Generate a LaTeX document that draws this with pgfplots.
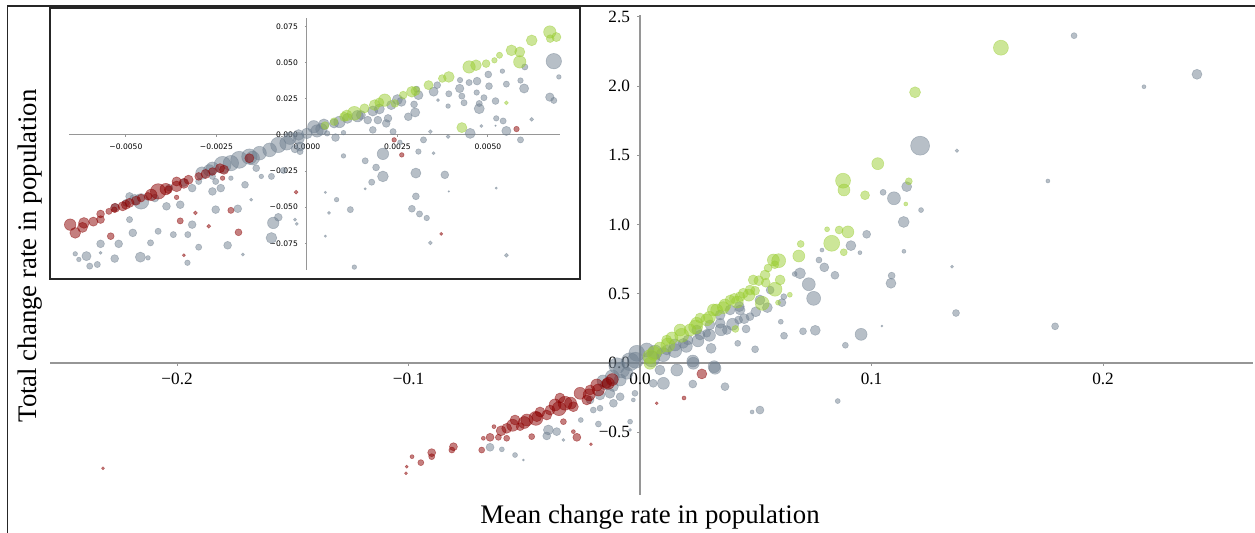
\documentclass[border=0pt]{standalone}
\usepackage{fontspec}
\setmainfont{Liberation Serif}
\newfontfamily\dejavu{DejaVu Sans}
\usepackage{pgfplots}
\pgfplotsset{compat=1.18}

\definecolor{grn}{RGB}{154,205,50}
\definecolor{gry}{RGB}{112,128,144}
\definecolor{drd}{RGB}{139,0,0}
\definecolor{axc}{RGB}{150,150,150}

\pgfplotsset{
  bub/.style 2 args={only marks, scatter, mark=*, line width=0.3pt,
    scatter/use mapped color={draw=#1, fill=#1, fill opacity=0.5, draw opacity=0.45},
    visualization depends on={#2*\thisrow{s} \as \msz},
    scatter/@pre marker code/.append style={/tikz/mark size=\msz}},
  midax/.style={axis lines=middle, scale only axis, scaled ticks=false,
    axis line style={-, draw=axc, line width=0.7pt},
    tick style={draw=axc, line width=0.5pt}, tick align=outside, major tick length=1.5pt,
    hide obscured x ticks=false, hide obscured y ticks=false},
}

\begin{document}
\begin{tikzpicture}
\useasboundingbox (0,0) rectangle (627.5pt,266.5pt);

% main chart
\begin{axis}[midax, at={(25pt,19pt)}, anchor=south west,
  width=601.5pt, height=240pt,
  xmin=-0.2549, xmax=0.2648, ymin=-0.9538, ymax=2.5145,
  xtick={-0.2,-0.1,0,0.1,0.2}, xticklabels={−0.2,−0.1,0.0,0.1,0.2},
  ytick={-0.5,0,0.5,1,1.5,2,2.5}, yticklabels={−0.5,0.0,0.5,1.0,1.5,2.0,2.5},
  tick label style={font=\fontsize{8.6}{10}\selectfont}]

\addplot[bub={gry}{1}] table[row sep=\\]{
x y s\\
0.1875 2.365 1.5\\
0.2406 2.086 2.5\\
0.2177 1.996 1\\
0.1210 1.570 4.75\\
0.1369 1.534 0.9\\
0.1762 1.315 1\\
0.1152 1.274 2.5\\
0.1050 1.233 1.5\\
0.1097 1.190 3.25\\
0.1214 1.105 1.25\\
0.1139 1.019 2.75\\
0.0979 0.930 2\\
0.0911 0.848 2.5\\
0.0950 0.797 1\\
0.1140 0.807 1\\
0.0786 0.816 1\\
0.0773 0.744 1.5\\
0.0796 0.691 2.25\\
0.0842 0.634 2\\
0.1087 0.631 1.75\\
0.1084 0.576 2.5\\
0.1348 0.696 0.75\\
0.0691 0.648 2.75\\
0.0668 0.643 1.25\\
0.0729 0.569 3.25\\
0.0750 0.467 3.5\\
0.0621 0.479 1.5\\
0.0613 0.436 2\\
0.0608 0.298 1.25\\
0.0622 0.197 1.75\\
0.0704 0.229 1.75\\
0.0757 0.236 2.5\\
0.0955 0.207 3\\
0.0887 0.128 1.5\\
0.1045 0.267 0.5\\
0.1365 0.361 1.75\\
0.1793 0.265 1.75\\
0.0422 0.142 1.5\\
0.0497 0.099 1.75\\
0.0458 0.246 2\\
0.0426 0.311 2\\
0.0307 0.106 2.5\\
0.0320 -0.027 3\\
0.0228 0.014 3\\
0.0429 0.407 2.5\\
0.0346 0.287 2.5\\
0.0375 0.238 2.25\\
-0.0014 0.070 4\\
-0.0043 0.009 4.5\\
0.0029 0.094 3.5\\
0.0101 -0.147 3\\
0.0086 -0.051 2.5\\
0.0230 -0.002 3\\
0.0159 -0.051 3\\
0.0324 -0.038 3\\
0.0367 -0.171 2\\
0.0228 -0.152 2\\
0.0245 0.238 2.5\\
0.0288 0.215 2\\
0.0187 0.142 2.5\\
0.0115 0.094 2.5\\
0.0432 0.383 2.5\\
0.0475 0.335 2\\
0.0518 -0.340 2\\
0.0484 -0.354 1\\
0.0854 -0.275 1.25\\
0.0057 -0.147 2\\
0.0259 0.202 2.5\\
0.0302 0.275 2.5\\
0.0346 0.347 2.5\\
0.0389 0.383 2.5\\
0.0518 0.455 2.5\\
0.0562 0.527 2\\
0.0151 0.130 3\\
0.0065 0.079 3.5\\
0.0207 0.166 2.5\\
0.0050 0.030 4\\
-0.0020 0.020 4\\
0.0100 0.060 3.5\\
0.0150 0.090 3.5\\
0.0200 0.120 3\\
0.0250 0.160 3\\
0.0300 0.200 3\\
0.0350 0.240 3\\
0.0400 0.280 3\\
0.0450 0.320 2.5\\
0.0500 0.370 2.5\\
0.0550 0.400 2.5\\
-0.0080 -0.050 4\\
-0.0120 -0.100 3.5\\
-0.0160 -0.130 3\\
-0.0100 -0.020 4\\
-0.0648 -0.609 2\\
-0.0597 -0.624 1.25\\
-0.0540 -0.665 1.25\\
-0.0504 -0.701 0.5\\
-0.0396 -0.484 2.5\\
-0.0360 -0.496 2\\
-0.0403 -0.527 2\\
-0.0331 -0.556 0.75\\
-0.0180 -0.441 1.5\\
-0.0256 -0.412 1.25\\
-0.0202 -0.340 1.5\\
-0.0173 -0.327 1.5\\
-0.0115 -0.291 2\\
-0.0086 -0.244 2\\
-0.0043 -0.424 1.25\\
-0.0043 -0.484 0.75\\
-0.0029 -0.267 1\\
-0.0022 -0.219 1.5\\
-0.0115 -0.171 2.5\\
-0.0086 -0.123 3\\
-0.0057 -0.074 3\\
-0.0130 -0.219 2.5\\
-0.0173 -0.231 2.5\\
-0.0216 -0.267 2\\
-0.0151 -0.159 2.5\\
};

\addplot[bub={grn}{1}] table[row sep=\\]{
x y s\\
0.1559 2.278 3.75\\
0.1188 1.956 2.75\\
0.1027 1.440 3\\
0.0877 1.317 3.75\\
0.0881 1.250 3\\
0.0972 1.212 2.25\\
0.1161 1.313 1.75\\
0.1148 1.149 1\\
0.0828 0.865 4\\
0.0898 0.947 3\\
0.0860 0.961 2\\
0.0808 0.966 1.25\\
0.0880 0.800 1.75\\
0.0694 0.860 1.75\\
0.0686 0.773 3\\
0.0599 0.739 3.5\\
0.0582 0.710 2\\
0.0605 0.600 2.5\\
0.0583 0.533 3.5\\
0.0513 0.595 2.5\\
0.0543 0.580 2.25\\
0.0497 0.522 2.25\\
0.0528 0.431 3.5\\
0.0647 0.493 1.25\\
0.0596 0.436 1.25\\
0.0446 0.504 2.5\\
0.0407 0.467 2.5\\
0.0412 0.246 1.75\\
0.0331 0.383 3\\
0.0288 0.311 3\\
0.0317 0.383 3\\
0.0432 0.479 2.5\\
0.0489 0.600 2.5\\
0.0576 0.744 3\\
0.0245 0.287 3\\
0.0173 0.238 3\\
0.0115 0.166 2.5\\
0.0043 0.046 3.5\\
0.0043 -0.002 3\\
0.0216 0.238 3\\
0.0259 0.325 2.5\\
0.0367 0.419 3\\
0.0389 0.455 2.5\\
0.0086 0.108 3\\
0.0138 0.181 3\\
0.0475 0.527 2.5\\
0.0540 0.636 2.5\\
0.0553 0.686 2\\
0.0060 0.070 3.5\\
0.0120 0.130 3.5\\
0.0180 0.200 3.5\\
0.0240 0.260 3.5\\
0.0300 0.330 3\\
0.0360 0.400 3\\
0.0420 0.440 3\\
0.0470 0.490 3\\
};

\addplot[bub={drd}{1}] table[row sep=\\]{
x y s\\
-0.0180 -0.195 3\\
-0.0259 -0.219 3\\
-0.0324 -0.291 3.5\\
-0.0389 -0.340 2.5\\
-0.0489 -0.412 3\\
-0.0446 -0.388 2.5\\
-0.0576 -0.472 2.5\\
-0.0144 -0.147 2.5\\
-0.0230 -0.267 2.5\\
-0.0288 -0.316 2.5\\
-0.0403 -0.376 2.5\\
-0.0518 -0.460 2\\
-0.0331 -0.424 1.5\\
-0.0468 -0.532 1.5\\
-0.0576 -0.544 1.5\\
-0.0648 -0.537 2\\
-0.0677 -0.544 1\\
-0.0612 -0.537 1.5\\
-0.0684 -0.629 1.5\\
-0.0806 -0.605 2\\
-0.0813 -0.629 1.5\\
-0.0900 -0.648 2\\
-0.0900 -0.677 1.5\\
-0.0947 -0.720 1.5\\
-0.0985 -0.677 1\\
-0.1008 -0.749 0.75\\
-0.1011 -0.797 0.75\\
-0.0273 -0.537 2\\
-0.0288 -0.496 1\\
-0.0212 -0.587 0.75\\
-0.2320 -0.761 0.75\\
-0.0631 -0.460 1\\
0.0267 -0.079 2.5\\
0.0190 -0.253 1\\
0.0072 -0.291 0.75\\
-0.0346 -0.253 2.5\\
-0.0367 -0.303 3\\
-0.0432 -0.354 2.5\\
-0.0540 -0.412 2.5\\
-0.0216 -0.195 2.5\\
-0.0187 -0.159 3\\
-0.0137 -0.147 3\\
-0.0500 -0.430 3\\
-0.0450 -0.400 3.5\\
-0.0350 -0.330 3.5\\
-0.0300 -0.290 3\\
-0.0220 -0.230 3\\
-0.0120 -0.120 3\\
-0.0600 -0.490 2.5\\
-0.0550 -0.450 3\\
};
\end{axis}

% frame lines
\draw[line width=0.7pt, black!85] (3.75pt,0pt) -- (3.75pt,263.5pt) -- (627.5pt,263.5pt);

% axis titles
\node[font=\fontsize{13.4}{15}\selectfont, anchor=base] at (325pt,4.5pt) {Mean change rate in population};
\node[font=\fontsize{13.4}{15}\selectfont, rotate=90] at (15pt,138.5pt) {Total change rate in population};

% inset
\fill[white] (25pt,127pt) rectangle (290pt,262.5pt);
\draw[line width=0.6pt, black!85] (25pt,127pt) rectangle (290pt,262.5pt);

\begin{axis}[midax, at={(34.65pt,131.5pt)}, anchor=south west,
  width=245.25pt, height=125.85pt,
  axis line style={-, draw=axc, line width=0.5pt}, major tick length=1pt,
  xmin=-0.006564, xmax=0.006986, ymin=-0.0935, ymax=0.0808,
  xtick={-0.005,-0.0025,0,0.0025,0.005},
  xticklabels={−0.0050,−0.0025,0.0000,0.0025,0.0050},
  ytick={-0.075,-0.05,-0.025,0,0.025,0.05,0.075},
  yticklabels={−0.075,−0.050,−0.025,0.000,0.025,0.050,0.075},
  tick label style={font=\dejavu\fontsize{3.8}{4.5}\selectfont}]

\addplot[bub={gry}{1.15}] table[row sep=\\]{
x y s\\
0.00682 0.0511 3.36\\
0.00696 0.0402 1.0\\
0.00671 0.0262 1.85\\
0.00682 0.0239 1.35\\
0.00602 0.0471 1.35\\
0.00590 0.0377 1.2\\
0.00600 0.0322 2.0\\
0.00551 0.0352 1.35\\
0.00540 0.0442 1.0\\
0.00501 0.0419 1.5\\
0.00470 0.0373 1.7\\
0.00448 0.0363 1.35\\
0.00423 0.0380 1.2\\
0.00422 0.0322 1.85\\
0.00503 0.0338 1.5\\
0.00392 0.0285 1.35\\
0.00428 0.0269 1.35\\
0.00469 0.0294 1.2\\
0.00489 0.0258 1.35\\
0.00521 0.0235 1.5\\
0.00476 0.0218 1.35\\
0.00476 0.0182 2.2\\
0.00434 0.0223 1.35\\
0.00390 0.0200 1.0\\
0.00362 0.0241 0.67\\
0.00296 0.0212 1.5\\
0.00299 0.0156 2.0\\
0.00280 0.0126 1.7\\
0.00224 0.0115 1.7\\
0.00196 0.0103 1.7\\
0.00168 0.0103 1.7\\
0.00219 0.0080 1.7\\
0.00182 0.0035 1.5\\
0.00238 0.0023 1.35\\
0.00341 0.0023 0.85\\
0.00390 -0.0011 0.85\\
0.00451 0.0011 2.2\\
0.00523 0.0115 1.2\\
0.00542 0.0097 1.35\\
0.00551 0.0028 2.0\\
0.00590 -0.0034 1.35\\
0.00621 0.0108 0.85\\
0.00521 0.0064 0.34\\
0.00482 0.0062 0.67\\
0.00322 -0.0034 1.35\\
0.00257 -0.0051 1.0\\
0.00308 -0.0115 1.2\\
0.00210 -0.0131 2.5\\
0.00161 -0.0179 1.35\\
0.00191 -0.0225 1.5\\
0.00210 -0.0287 2.35\\
0.00179 -0.0327 1.35\\
0.00161 -0.0373 0.5\\
0.00301 -0.0264 2.2\\
0.00381 -0.0276 1.7\\
0.00350 -0.0126 0.67\\
0.00392 -0.0391 0.34\\
0.00301 -0.0425 1.5\\
0.00290 -0.0511 1.5\\
0.00311 -0.0547 1.35\\
0.00331 -0.0575 1.2\\
0.00120 -0.0517 1.35\\
0.00082 -0.0448 1.0\\
0.00051 -0.0398 0.5\\
0.00061 -0.0540 0.67\\
0.00051 -0.0701 0.5\\
0.00341 -0.0747 0.85\\
0.00131 -0.0915 1.0\\
0.00523 -0.0368 0.5\\
0.00551 -0.0833 0.85\\
0.00101 -0.0145 1.0\\
0.00079 -0.0018 1.7\\
0.00056 0.0011 1.2\\
0.00101 0.0016 1.0\\
-0.00019 -0.0080 2.0\\
-0.00023 -0.0023 2.5\\
0.00028 0.0028 2.7\\
0.00019 0.0057 2.7\\
0.00047 0.0074 2.35\\
0.00075 0.0080 2.0\\
0.00112 0.0115 2.2\\
0.00149 0.0138 2.0\\
0.00182 0.0166 2.2\\
0.00233 0.0207 2.0\\
0.00261 0.0230 2.0\\
0.00308 0.0276 2.0\\
0.00303 0.0317 1.35\\
0.00360 0.0345 1.5\\
0.00040 0.0040 2.5\\
0.00090 0.0090 2.5\\
0.00140 0.0130 2.5\\
0.00200 0.0180 2.2\\
0.00250 0.0245 2.2\\
0.00350 0.0300 2.0\\
-0.00056 -0.0057 3.0\\
-0.00079 -0.0069 3.36\\
-0.00103 -0.0103 3.0\\
-0.00131 -0.0126 3.0\\
-0.00159 -0.0150 3.36\\
-0.00187 -0.0172 3.7\\
-0.00210 -0.0195 3.36\\
-0.00233 -0.0207 3.7\\
-0.00261 -0.0230 2.7\\
-0.00290 -0.0264 2.7\\
-0.00047 -0.0023 2.7\\
-0.00023 0.0000 2.35\\
0.00000 0.0011 2.35\\
-0.00458 -0.0460 3.36\\
-0.00476 -0.0448 2.35\\
-0.00490 -0.0425 1.7\\
-0.00420 -0.0437 1.7\\
-0.00388 -0.0494 1.7\\
-0.00350 -0.0483 1.7\\
-0.00317 -0.0368 1.7\\
-0.00261 -0.0391 1.7\\
-0.00238 -0.0368 1.7\\
-0.00252 -0.0322 1.35\\
-0.00261 -0.0287 1.35\\
-0.00299 -0.0322 1.35\\
-0.00210 -0.0299 1.0\\
-0.00171 -0.0345 1.5\\
-0.00140 -0.0230 1.5\\
-0.00098 -0.0287 1.35\\
-0.00065 -0.0246 1.35\\
-0.00126 -0.0287 1.0\\
-0.00252 -0.0517 1.7\\
-0.00191 -0.0511 1.7\\
-0.00154 -0.0448 0.67\\
-0.00093 -0.0609 2.5\\
-0.00079 -0.0570 1.7\\
-0.00098 -0.0713 2.35\\
-0.00028 -0.0616 0.67\\
-0.00033 -0.0586 0.67\\
-0.00033 -0.0097 1.7\\
-0.00019 -0.0115 1.35\\
-0.00219 -0.0764 1.7\\
-0.00177 -0.0828 0.67\\
-0.00299 -0.0777 1.35\\
-0.00329 -0.0690 1.35\\
-0.00369 -0.0690 1.35\\
-0.00317 -0.0621 1.7\\
-0.00411 -0.0667 1.35\\
-0.00432 -0.0747 1.35\\
-0.00481 -0.0678 1.7\\
-0.00490 -0.0586 1.35\\
-0.00520 -0.0754 1.7\\
-0.00570 -0.0754 1.7\\
-0.00570 -0.0816 0.67\\
-0.00609 -0.0839 2.0\\
-0.00640 -0.0823 1.0\\
-0.00630 -0.0862 1.0\\
-0.00531 -0.0856 1.7\\
-0.00460 -0.0846 2.2\\
-0.00439 -0.0851 1.0\\
-0.00330 -0.0885 1.2\\
-0.00600 -0.0908 1.35\\
-0.00579 -0.0897 1.35\\
-0.00340 -0.0330 1.7\\
-0.00380 -0.0365 1.5\\
-0.00530 -0.0500 1.7\\
-0.00500 -0.0470 1.5\\
-0.00270 -0.0245 2.5\\
-0.00150 -0.0160 3.0\\
};

\addplot[bub={grn}{1.15}] table[row sep=\\]{
x y s\\
0.00671 0.0713 2.7\\
0.00621 0.0655 2.35\\
0.00689 0.0678 2.0\\
0.00672 0.0667 1.7\\
0.00588 0.0575 2.2\\
0.00565 0.0586 2.35\\
0.00588 0.0506 2.7\\
0.00532 0.0552 1.35\\
0.00518 0.0517 1.2\\
0.00495 0.0494 1.7\\
0.00467 0.0483 2.35\\
0.00448 0.0471 2.7\\
0.00392 0.0402 2.35\\
0.00374 0.0391 1.7\\
0.00336 0.0345 2.0\\
0.00290 0.0299 2.35\\
0.00266 0.0276 1.7\\
0.00215 0.0241 2.7\\
0.00187 0.0207 2.35\\
0.00131 0.0150 3.0\\
0.00103 0.0126 2.0\\
0.00075 0.0092 1.7\\
0.00159 0.0184 2.0\\
0.00428 0.0051 2.2\\
0.00551 0.0223 0.85\\
0.00243 0.0218 1.7\\
0.00300 0.0305 2.0\\
0.00110 0.0135 2.4\\
0.00200 0.0225 2.0\\
0.00050 0.0065 1.7\\
};

\addplot[bub={drd}{1.15}] table[row sep=\\]{
x y s\\
-0.00654 -0.0621 2.5\\
-0.00640 -0.0678 2.35\\
-0.00616 -0.0609 2.35\\
-0.00570 -0.0586 1.7\\
-0.00570 -0.0547 1.7\\
-0.00547 -0.0529 1.35\\
-0.00532 -0.0517 1.2\\
-0.00509 -0.0494 2.0\\
-0.00500 -0.0483 2.0\\
-0.00472 -0.0455 2.0\\
-0.00458 -0.0437 1.7\\
-0.00439 -0.0425 1.7\\
-0.00411 -0.0391 3.36\\
-0.00383 -0.0379 1.7\\
-0.00360 -0.0356 2.35\\
-0.00360 -0.0322 2.0\\
-0.00327 -0.0310 2.0\\
-0.00299 -0.0287 1.7\\
-0.00261 -0.0253 1.7\\
-0.00229 -0.0241 2.0\\
-0.00233 -0.0299 1.0\\
-0.00360 -0.0432 1.0\\
-0.00542 -0.0701 1.5\\
-0.00350 -0.0595 1.35\\
-0.00308 -0.0540 0.85\\
-0.00271 -0.0632 0.85\\
-0.00210 -0.0522 1.35\\
-0.00189 -0.0674 1.5\\
-0.00340 -0.0833 0.67\\
-0.00159 -0.0161 2.0\\
-0.00030 -0.0396 0.85\\
0.00262 -0.0138 1.0\\
0.00241 -0.0034 1.0\\
0.00579 0.0041 1.2\\
0.00371 -0.0685 0.67\\
-0.00620 -0.0640 2.2\\
-0.00590 -0.0600 2.0\\
-0.00530 -0.0505 2.0\\
-0.00490 -0.0470 2.0\\
-0.00430 -0.0415 2.5\\
-0.00390 -0.0375 2.5\\
-0.00340 -0.0335 2.2\\
-0.00280 -0.0270 2.0\\
-0.00240 -0.0230 2.0\\
};
\end{axis}
\end{tikzpicture}
\end{document}
